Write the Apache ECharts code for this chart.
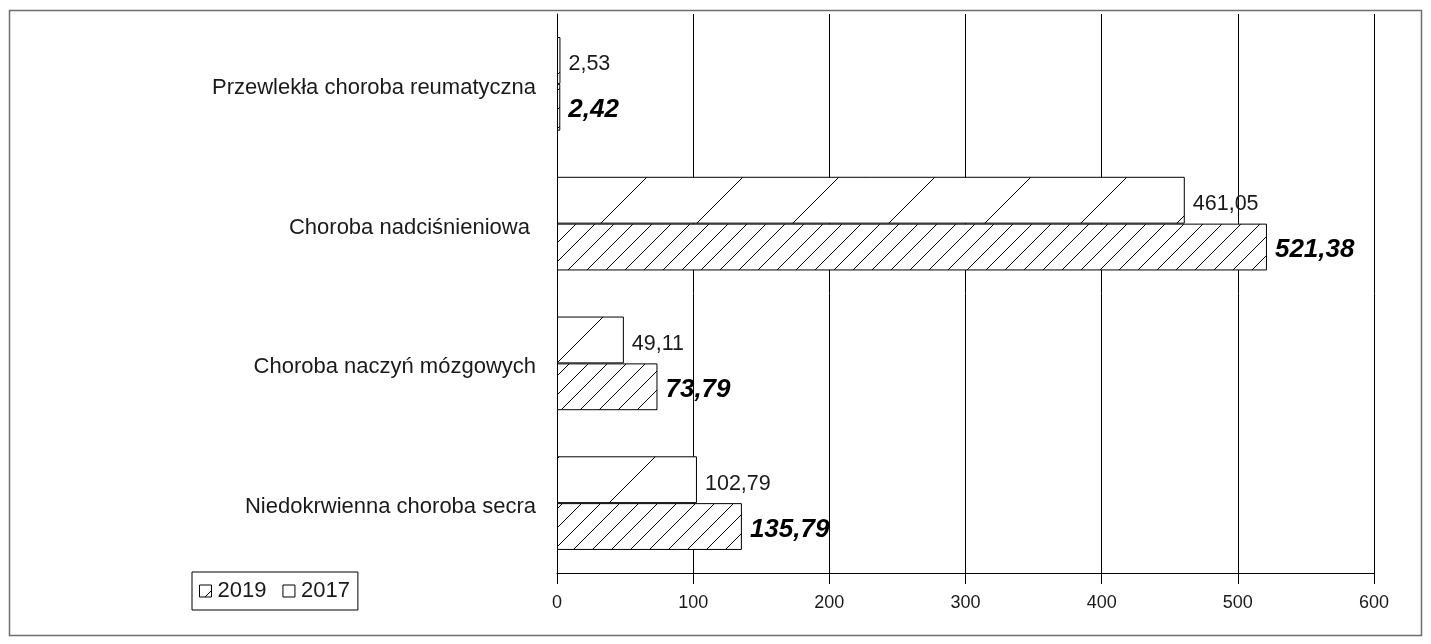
<!DOCTYPE html>
<html>
<head>
<meta charset="utf-8">
<script src="https://cdn.jsdelivr.net/npm/echarts@6/dist/echarts.min.js"></script>
<style>
  html, body { margin: 0; padding: 0; background: #fff; }
  #chart { width: 1431px; height: 644px; }
</style>
</head>
<body>
<div id="chart"></div>
<script>
// Categories listed top to bottom
const categories = [
  'Przewlekła choroba reumatyczna',
  'Choroba nadciśnieniowa ',
  'Choroba naczyń mózgowych',
  'Niedokrwienna choroba secra'
];
const values2017 = [2.53, 461.05, 49.11, 102.79];
const values2019 = [2.42, 521.38, 73.79, 135.79];
const xTicks = { min: 0, max: 600, interval: 100 };

const FONT = '"Liberation Sans", Arial, sans-serif';

// Diagonal hatch tile: "/" lines at 45 degrees, repeating every `period` px
function hatch(period, phase) {
  const c = document.createElement('canvas');
  c.width = period; c.height = period;
  const ctx = c.getContext('2d');
  ctx.fillStyle = '#fff';
  ctx.fillRect(0, 0, period, period);
  ctx.strokeStyle = '#000';
  ctx.lineWidth = 1;
  ctx.beginPath();
  for (let k = -1; k <= 1; k++) {
    const s = phase + k * period;
    ctx.moveTo(0, s);
    ctx.lineTo(s, 0);
  }
  ctx.moveTo(0, phase + period); ctx.lineTo(phase + period, 0);
  ctx.stroke();
  return { image: c, repeat: 'repeat' };
}

const dense = hatch(19, 2);
const sparse = hatch(96, 56);

const fmt = v => v.toFixed(2).replace('.', ',');

const chart = echarts.init(document.getElementById('chart'), null, { renderer: 'canvas' });

chart.setOption({
  animation: false,
  backgroundColor: '#fff',
  textStyle: { fontFamily: FONT },
  grid: { left: 557, right: 57, top: 14, bottom: 71, containLabel: false },
  legend: {
    data: [
      {
        name: '2019',
        icon: 'path://M0,0H13V13H0Z M6,13L13,6',
        itemStyle: { color: '#fff', borderColor: '#000', borderWidth: 1 }
      },
      {
        name: '2017',
        icon: 'path://M0,0H13V13H0Z',
        itemStyle: { color: '#fff', borderColor: '#000', borderWidth: 1 }
      }
    ],
    left: 192,
    top: 572,
    orient: 'horizontal',
    itemWidth: 12,
    itemHeight: 12,
    itemGap: 16,
    padding: [8, 8, 8, 7],
    borderColor: '#000',
    borderWidth: 1,
    textStyle: { fontFamily: FONT, fontSize: 22, color: '#1a1a1a', padding: [0, 0, 0, 1] }
  },
  xAxis: {
    type: 'value',
    min: xTicks.min,
    max: xTicks.max,
    interval: xTicks.interval,
    axisLine: { show: true, lineStyle: { color: '#000', width: 1 } },
    axisTick: { show: true, length: 11, lineStyle: { color: '#000' } },
    axisLabel: { fontFamily: FONT, fontSize: 18, color: '#1a1a1a', margin: 21 },
    splitLine: { show: true, lineStyle: { color: '#000', width: 1 } }
  },
  yAxis: {
    type: 'category',
    data: categories,
    inverse: true,
    axisLine: { show: true, lineStyle: { color: '#000', width: 1 } },
    axisTick: { show: false },
    axisLabel: {
      fontFamily: FONT, fontSize: 22, color: '#1a1a1a', margin: 21,
      formatter: v => '{c|' + v + '}',
      rich: { c: { fontFamily: FONT, fontSize: 22, color: '#1a1a1a', padding: [8, 0, 0, 0] } }
    },
    splitLine: { show: false }
  },
  series: [
    {
      name: '2017',
      type: 'bar',
      data: values2017,
      barGap: '0%',
      barCategoryGap: '33%',
      itemStyle: { color: sparse, borderColor: '#000', borderWidth: 1 },
      label: {
        show: true, position: 'right', distance: 8, offset: [0, 4],
        fontFamily: FONT, fontSize: 21.5, color: '#1a1a1a',
        formatter: p => fmt(p.value)
      }
    },
    {
      name: '2019',
      type: 'bar',
      data: values2019,
      barGap: '0%',
      barCategoryGap: '33%',
      itemStyle: { color: dense, borderColor: '#000', borderWidth: 1 },
      label: {
        show: true, position: 'right', distance: 8, offset: [0, 3],
        fontFamily: FONT, fontSize: 26, fontWeight: 'bold', fontStyle: 'italic', color: '#000',
        formatter: p => fmt(p.value)
      }
    }
  ],
  graphic: [{
    type: 'rect',
    silent: true,
    shape: { x: 9.5, y: 10.5, width: 1412, height: 625 },
    style: { fill: null, stroke: '#6e6e6e', lineWidth: 1.5 }
  }]
});
</script>
</body>
</html>
